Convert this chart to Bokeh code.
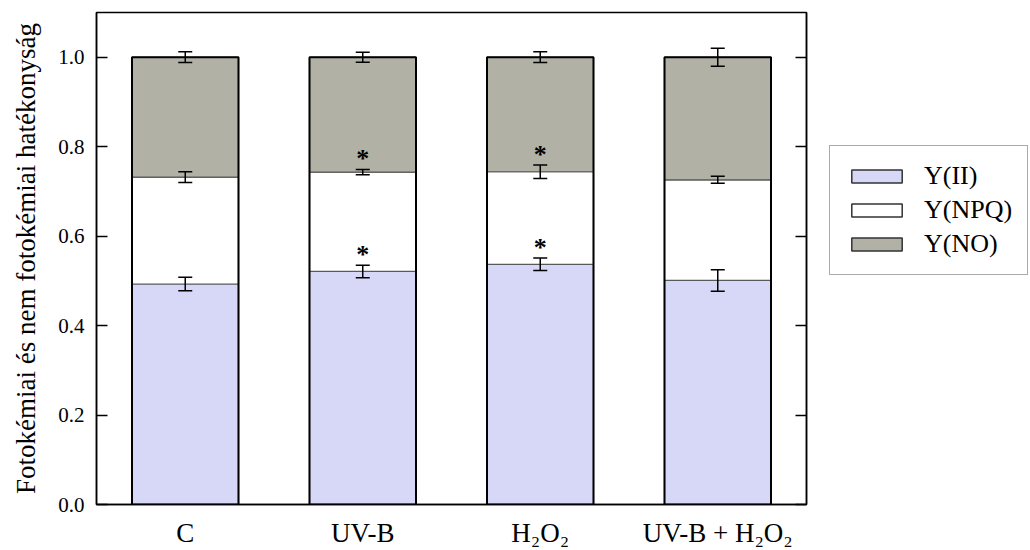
from bokeh.plotting import figure
from bokeh.layouts import row
from bokeh.models import (FactorRange, Range1d, Whisker, TeeHead, ColumnDataSource,
                          Legend, LegendItem, LinearAxis, FixedTicker)
from bokeh.core.properties import value
from bokeh.embed import file_html
from bokeh.resources import INLINE

# ---------------- data ----------------
categories = ["C", "UV-B", "H₂O₂", "UV-B + H₂O₂"]
series_names = ["Y(II)", "Y(NPQ)", "Y(NO)"]
y_ii = [0.493, 0.521, 0.537, 0.501]
y_ii_err = [0.015, 0.014, 0.014, 0.024]
y_npq = [0.239, 0.222, 0.207, 0.225]
y_npq_err = [0.012, 0.006, 0.015, 0.008]
y_no = [0.268, 0.257, 0.256, 0.274]
y_no_err = [0.012, 0.011, 0.012, 0.020]
sig_ii = [False, True, True, False]
sig_npq = [False, True, True, False]
y_ticks = [0.0, 0.2, 0.4, 0.6, 0.8, 1.0]
y_tick_labels = ["0.0", "0.2", "0.4", "0.6", "0.8", "1.0"]
y_label = "Fotokémiai és nem fotokémiai hatékonyság"

colors = ["#d7d7f8", "#ffffff", "#b1b1a5"]
FONT = "Liberation Serif"

# ---------------- derived stacks ----------------
t1 = list(y_ii)
t2 = [a + b for a, b in zip(t1, y_npq)]
t3 = [a + b for a, b in zip(t2, y_no)]
bottoms = [[0.0] * len(categories), t1, t2]
tops = [t1, t2, t3]
errs = [y_ii_err, y_npq_err, y_no_err]

p = figure(width=810, height=550, x_range=FactorRange(*categories, range_padding=0),
           y_range=Range1d(0, 1.1), output_backend="svg", toolbar_location=None,
           min_border_left=96, min_border_top=12, min_border_right=4, min_border_bottom=41)
p.grid.visible = False
p.outline_line_color = "black"
p.outline_line_width = 1.5
p.background_fill_color = "white"
p.border_fill_color = "white"

sources = []
for i, name in enumerate(series_names):
    src = ColumnDataSource(dict(cat=categories, bottom=bottoms[i], top=tops[i]))
    sources.append(src)
    p.vbar(x="cat", bottom="bottom", top="top", width=0.6, source=src,
           fill_color=colors[i], line_color="#5a5a5a", line_width=1.2)

# outer outline of each stacked bar
osrc = ColumnDataSource(dict(cat=categories, bottom=[0.0] * len(categories), top=t3))
p.vbar(x="cat", bottom="bottom", top="top", width=0.6, source=osrc,
       fill_color=None, line_color="black", line_width=2)

# error bars
for i in range(3):
    wsrc = ColumnDataSource(dict(cat=categories,
                                 upper=[t + e for t, e in zip(tops[i], errs[i])],
                                 lower=[t - e for t, e in zip(tops[i], errs[i])]))
    w = Whisker(base="cat", upper="upper", lower="lower", source=wsrc, dimension="height",
                line_color="black", line_width=1.5, level="overlay",
                upper_head=TeeHead(size=14, line_width=1.5, line_color="black"),
                lower_head=TeeHead(size=14, line_width=1.5, line_color="black"))
    p.add_layout(w)

# significance asterisks
ax, ay = [], []
for sig, top, err in ((sig_ii, t1, y_ii_err), (sig_npq, t2, y_npq_err)):
    for c, s, t, e in zip(categories, sig, top, err):
        if s:
            ax.append(c)
            ay.append(t + e)
asrc = ColumnDataSource(dict(x=ax, y=ay, t=["*"] * len(ax)))
p.text(x="x", y="y", text="t", source=asrc, text_font=value(FONT), text_font_size="26px",
       text_font_style="bold", text_align="center", text_baseline="middle", y_offset=-11,
       text_color="black")

# y axis (left)
ya = p.yaxis[0]
ya.ticker = FixedTicker(ticks=y_ticks)
ya.major_label_overrides = {t: l for t, l in zip(y_ticks, y_tick_labels)}
ya.major_tick_in = 11
ya.major_tick_out = 0
ya.minor_tick_line_color = None
ya.major_tick_line_width = 1.5
ya.axis_line_width = 1.5
ya.major_label_text_font = FONT
ya.major_label_text_font_size = "21px"
ya.major_label_text_color = "black"
ya.major_label_standoff = 12
ya.axis_label = y_label
ya.axis_label_text_font = FONT
ya.axis_label_text_font_size = "27px"
ya.axis_label_text_font_style = "normal"
ya.axis_label_text_color = "black"
ya.axis_label_standoff = 14

# right axis: ticks only
ra = LinearAxis(ticker=FixedTicker(ticks=y_ticks), major_tick_in=11, major_tick_out=0,
                minor_tick_line_color=None, major_tick_line_width=1.5, axis_line_width=1.5,
                major_label_text_color=None, major_label_text_font_size="1px",
                major_label_standoff=0)
p.add_layout(ra, "right")

# x axis
xa = p.xaxis[0]
xa.major_tick_line_color = None
xa.minor_tick_line_color = None
xa.axis_line_width = 1.5
xa.major_label_text_font = FONT
xa.major_label_text_font_size = "27px"
xa.major_label_text_color = "black"
xa.major_label_standoff = 7

# ---------------- legend panel (separate figure, its bar renderers hidden) ----------------
pl = figure(width=220, height=550, x_range=FactorRange(*categories),
            y_range=Range1d(0, 1.1), x_axis_type=None, y_axis_type=None,
            output_backend="svg", toolbar_location=None,
            min_border_left=0, min_border_right=0, min_border_top=0, min_border_bottom=0)
pl.grid.visible = False
pl.outline_line_color = None
pl.background_fill_color = "white"
pl.border_fill_color = "white"

legend_renderers = []
for i, name in enumerate(series_names):
    r = pl.vbar(x="cat", bottom="bottom", top="top", width=0.6, source=sources[i],
                fill_color=colors[i], line_color="#333333", line_width=1.5)
    r.visible = False
    legend_renderers.append(r)

legend = Legend(items=[LegendItem(label=n, renderers=[r])
                       for n, r in zip(series_names, legend_renderers)],
                location=(19, 229), orientation="vertical",
                label_text_font=FONT, label_text_font_size="26px", label_text_color="black",
                glyph_width=63, glyph_height=16, label_standoff=16, padding=15, spacing=4,
                border_line_color="#555555", border_line_width=1, background_fill_color="white",
                inactive_fill_alpha=0.0, margin=0)
pl.add_layout(legend)

layout = row(p, pl)
open("out.html", "w").write(file_html(layout, INLINE))
